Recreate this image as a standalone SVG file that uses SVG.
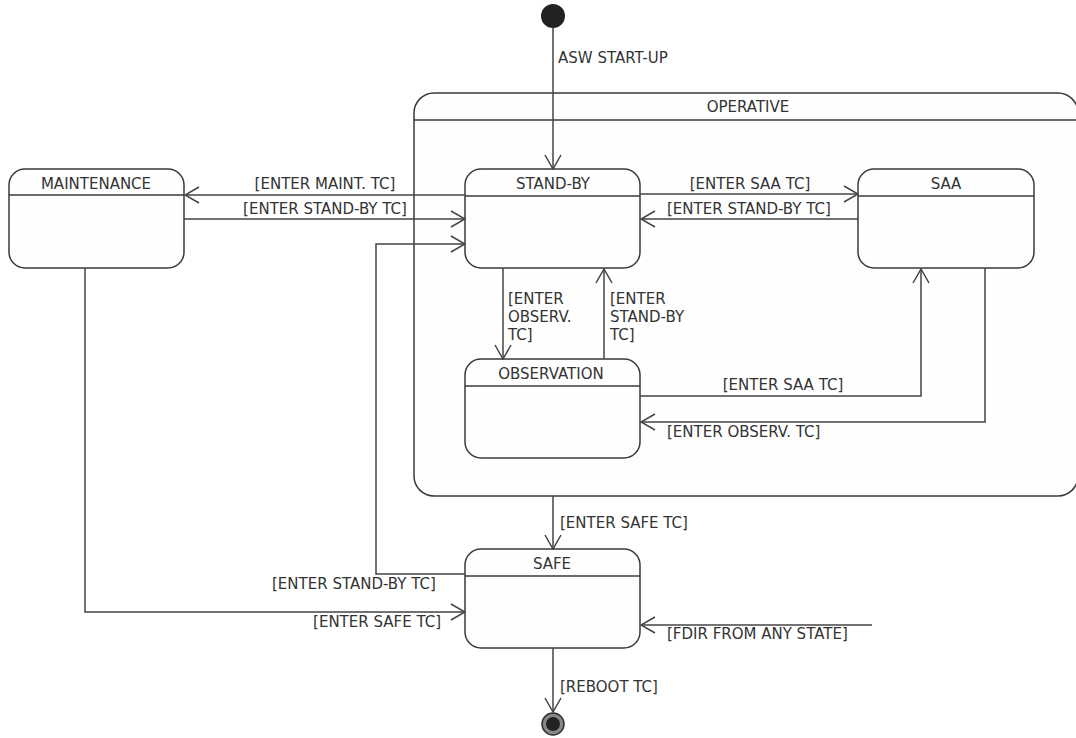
<svg xmlns="http://www.w3.org/2000/svg" width="1076" height="738" viewBox="0 0 1076 738">
<style>
.st{fill:#fefefe;stroke:#3a3a3a;stroke-width:1.5}
.hl{stroke:#3a3a3a;stroke-width:1.5}
.t{font-family:"DejaVu Sans",sans-serif;font-size:15px;fill:#333}
.c{text-anchor:middle}
.e{text-anchor:end}
.ln{fill:none;stroke:#444;stroke-width:1.5}
</style>
<defs>
<marker id="arr" viewBox="0 0 16 18" refX="15" refY="9" markerWidth="16" markerHeight="18" orient="auto" markerUnits="userSpaceOnUse">
<path d="M1,1 L15,9 L1,17" fill="none" stroke="#444" stroke-width="1.5"/>
</marker>
</defs>
<rect width="1076" height="738" fill="#ffffff"/>
<g id="operative">
<rect class="st" x="414" y="93" width="664" height="403" rx="20"/>
<line class="hl" x1="414" y1="120" x2="1076" y2="120"/>
<text class="t c" x="748" y="112">OPERATIVE</text>
</g>
<g id="initial"><circle cx="553" cy="16" r="12" fill="#222"/></g>
<g id="maintenance">
<rect class="st" x="9" y="169" width="175" height="99" rx="16"/>
<line class="hl" x1="9" y1="195" x2="184" y2="195"/>
<text class="t c" x="96" y="189">MAINTENANCE</text>
</g>
<g id="standby">
<rect class="st" x="465" y="169" width="175" height="99" rx="16"/>
<line class="hl" x1="465" y1="196" x2="640" y2="196"/>
<text class="t c" x="553" y="189">STAND-BY</text>
</g>
<g id="saa">
<rect class="st" x="858" y="169" width="176" height="99" rx="16"/>
<line class="hl" x1="858" y1="196" x2="1034" y2="196"/>
<text class="t c" x="946" y="189">SAA</text>
</g>
<g id="observation">
<rect class="st" x="465" y="359" width="175" height="99" rx="16"/>
<line class="hl" x1="465" y1="386" x2="640" y2="386"/>
<text class="t c" x="551" y="379">OBSERVATION</text>
</g>
<g id="safe">
<rect class="st" x="465" y="549" width="175" height="99" rx="16"/>
<line class="hl" x1="465" y1="576" x2="640" y2="576"/>
<text class="t c" x="552" y="569">SAFE</text>
</g>
<g id="final">
<circle cx="553" cy="724" r="11" fill="#888" stroke="#333" stroke-width="1.5"/>
<circle cx="553" cy="724" r="7" fill="#222"/>
</g>
<g id="connectors">
<path class="ln" d="M553,28 V169" marker-end="url(#arr)"/>
<text class="t" x="558" y="63">ASW START-UP</text>
<path class="ln" d="M465,195 H185" marker-end="url(#arr)"/>
<text class="t c" x="325" y="189">[ENTER MAINT. TC]</text>
<path class="ln" d="M184,219 H465" marker-end="url(#arr)"/>
<text class="t c" x="325" y="214">[ENTER STAND-BY TC]</text>
<path class="ln" d="M465,574 H376 V244 H465" marker-end="url(#arr)"/>
<text class="t" x="272" y="589">[ENTER STAND-BY TC]</text>
<path class="ln" d="M640,194 H858" marker-end="url(#arr)"/>
<text class="t c" x="750" y="189">[ENTER SAA TC]</text>
<path class="ln" d="M858,219 H641" marker-end="url(#arr)"/>
<text class="t" x="667" y="214">[ENTER STAND-BY TC]</text>
<path class="ln" d="M503,268 V359" marker-end="url(#arr)"/>
<text class="t" x="508" y="304">[ENTER</text>
<text class="t" x="508" y="322">OBSERV.</text>
<text class="t" x="508" y="340">TC]</text>
<path class="ln" d="M604,359 V269" marker-end="url(#arr)"/>
<text class="t" x="610" y="304">[ENTER</text>
<text class="t" x="610" y="322">STAND-BY</text>
<text class="t" x="610" y="340">TC]</text>
<path class="ln" d="M640,396 H921 V269" marker-end="url(#arr)"/>
<text class="t c" x="783" y="390">[ENTER SAA TC]</text>
<path class="ln" d="M985,268 V422 H641" marker-end="url(#arr)"/>
<text class="t" x="667" y="437">[ENTER OBSERV. TC]</text>
<path class="ln" d="M553,496 V549" marker-end="url(#arr)"/>
<text class="t" x="560" y="528">[ENTER SAFE TC]</text>
<path class="ln" d="M85,268 V612 H465" marker-end="url(#arr)"/>
<text class="t e" x="441" y="627">[ENTER SAFE TC]</text>
<path class="ln" d="M872,625 H641" marker-end="url(#arr)"/>
<text class="t" x="667" y="639">[FDIR FROM ANY STATE]</text>
<path class="ln" d="M553,648 V712" marker-end="url(#arr)"/>
<text class="t" x="560" y="692">[REBOOT TC]</text>
</g>
</svg>
